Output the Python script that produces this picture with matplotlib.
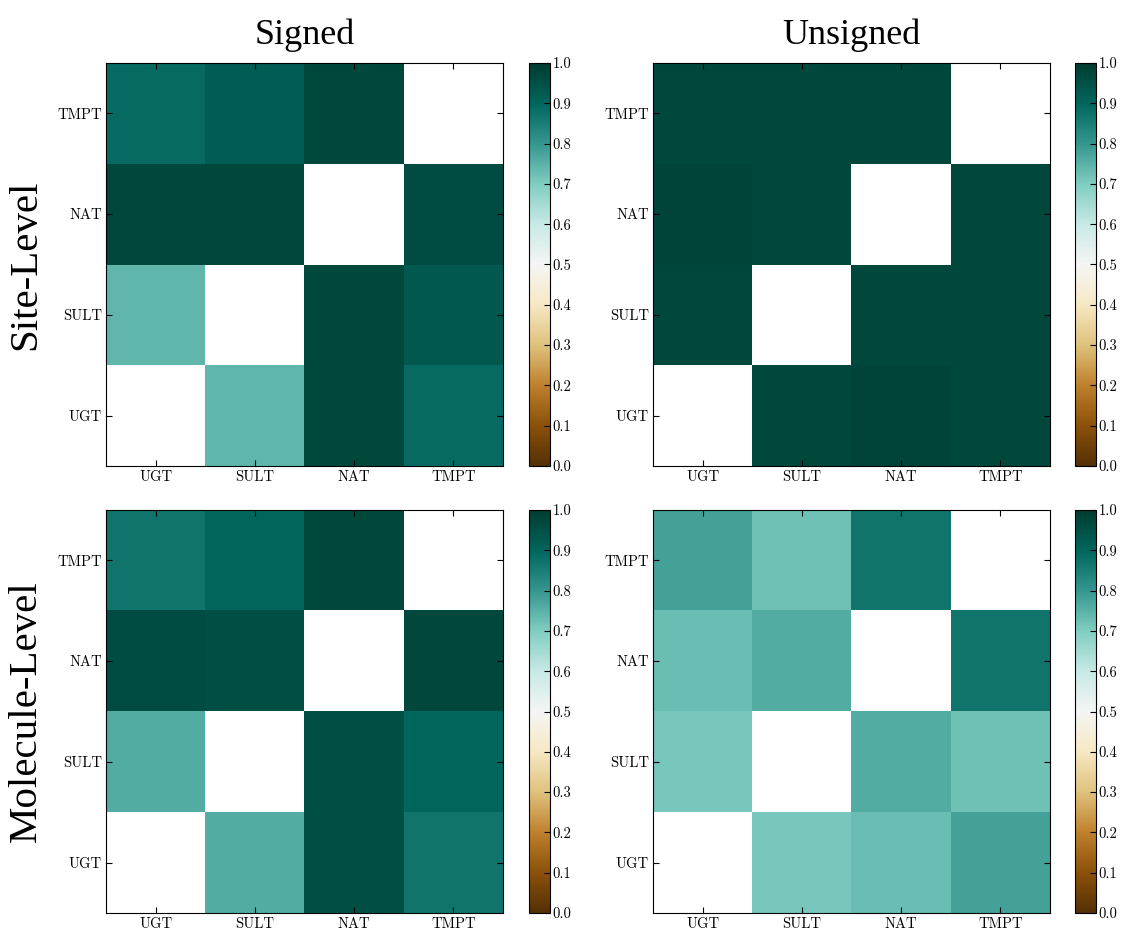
import numpy as np
import matplotlib
matplotlib.use('Agg')
import matplotlib.pyplot as plt

# enzyme families, bottom-to-top on y, left-to-right on x
enzymes = ['UGT', 'SULT', 'NAT', 'TMPT']
col_titles = ['Signed', 'Unsigned']
row_titles = ['Site-Level', 'Molecule-Level']
nan = np.nan

# rows follow enzymes order (row 0 = UGT at the bottom)
site_signed = [[nan, 0.74, 0.97, 0.89],
               [0.74, nan, 0.97, 0.93],
               [0.97, 0.97, nan, 0.96],
               [0.89, 0.92, 0.97, nan]]
site_unsigned = [[nan, 0.97, 0.98, 0.97],
                 [0.97, nan, 0.97, 0.97],
                 [0.98, 0.97, nan, 0.97],
                 [0.97, 0.97, 0.97, nan]]
mol_signed = [[nan, 0.76, 0.95, 0.87],
              [0.76, nan, 0.95, 0.90],
              [0.96, 0.95, nan, 0.97],
              [0.87, 0.90, 0.97, nan]]
mol_unsigned = [[nan, 0.71, 0.73, 0.78],
                [0.71, nan, 0.76, 0.72],
                [0.73, 0.76, nan, 0.87],
                [0.78, 0.72, 0.87, nan]]

plt.rcParams['font.family'] = 'cmr10'
plt.rcParams['axes.formatter.use_mathtext'] = True
plt.rcParams['xtick.direction'] = 'in'
plt.rcParams['ytick.direction'] = 'in'
plt.rcParams['xtick.top'] = True
plt.rcParams['ytick.right'] = True
plt.rcParams['xtick.major.size'] = 4
plt.rcParams['ytick.major.size'] = 4

fig = plt.figure(figsize=(11.22, 9.3), dpi=100)

lefts = [106 / 1122, 653 / 1122]
cb_lefts = [529 / 1122, 1075 / 1122]
bottoms = [1 - 466 / 930, 1 - 913 / 930]
w, h = 397 / 1122, 403 / 930
cb_w = 21 / 1122

mats = [[site_signed, site_unsigned], [mol_signed, mol_unsigned]]
cmap = plt.get_cmap('BrBG').copy()
cmap.set_bad('white')

for r in range(2):
    for c in range(2):
        ax = fig.add_axes([lefts[c], bottoms[r], w, h])
        data = np.ma.masked_invalid(np.array(mats[r][c]))
        im = ax.imshow(data, cmap=cmap, vmin=0, vmax=1, origin='lower',
                       interpolation='nearest', aspect='auto')
        ax.set_xticks(range(len(enzymes)))
        ax.set_yticks(range(len(enzymes)))
        ax.set_xticklabels(enzymes, fontsize=10.5)
        ax.set_yticklabels(enzymes, fontsize=10.5)
        ax.tick_params(pad=3)
        if r == 0:
            ax.set_title(col_titles[c], fontsize=26, family='Liberation Serif', pad=14)
        cax = fig.add_axes([cb_lefts[c], bottoms[r], cb_w, h])
        cb = fig.colorbar(im, cax=cax, ticks=np.linspace(0, 1, 11))
        cb.ax.tick_params(labelsize=10.5, direction='in', length=4, pad=2)
        cb.ax.set_yticklabels(['%.1f' % t for t in np.linspace(0, 1, 11)])
    fig.text(26 / 1122, bottoms[r] + h / 2, row_titles[r], rotation=90,
             ha='center', va='center', fontsize=29.5, family='Liberation Serif')

fig.savefig('out.png', dpi=100, facecolor='white')
